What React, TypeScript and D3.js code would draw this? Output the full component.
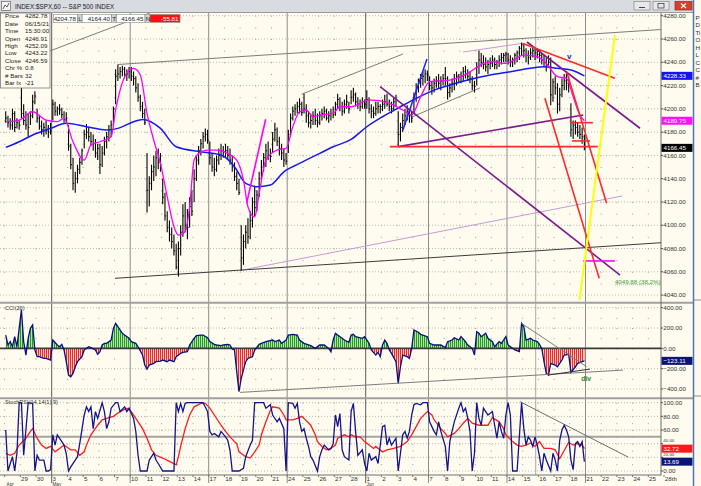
import React from "react";
import * as d3 from "d3";

const FONT = "Liberation Sans, Arial, Helvetica, sans-serif";

// ---------- DATA ----------
// 60-minute bars, 7 per trading day (Apr 28 .. Jun 18, 2021)
const barHigh: number[] = [
  4198,4194,4192,4200,4198,4192,4190,
  4218,4204,4198,4196,4198,4212,4215,
  4200,4194,4190,4188,4190,4186,4188,
  4208,4206,4202,4204,4201,4198,4197,
  4186,4170,4158,4146,4152,4158,4166,
  4182,4187,4184,4180,4178,4174,4170,
  4170,4168,4176,4180,4186,4190,4202,
  4234,4238,4236,4237,4236,4234,4236,
  4236,4232,4228,4222,4212,4206,4200,
  4162,4142,4152,4160,4164,4166,4162,
  4140,4128,4112,4104,4098,4092,4084,
  4086,4100,4118,4120,4114,4124,4130,
  4148,4160,4168,4174,4180,4183,4182,
  4172,4162,4158,4160,4166,4170,4168,
  4170,4168,4166,4160,4154,4146,4140,
  4100,4092,4100,4106,4112,4124,4134,
  4130,4146,4156,4162,4170,4172,4166,
  4180,4188,4184,4176,4170,4166,4162,
  4182,4196,4202,4204,4206,4209,4206,
  4213,4204,4198,4196,4198,4200,4196,
  4198,4200,4202,4200,4198,4200,4202,
  4206,4213,4210,4206,4208,4212,4206,
  4216,4218,4214,4210,4208,4210,4208,
  4216,4210,4204,4202,4206,4206,4204,
  4208,4212,4213,4208,4206,4210,4212,
  4198,4188,4196,4200,4203,4200,4198,
  4214,4222,4226,4230,4232,4234,4233,
  4228,4224,4226,4228,4230,4228,4230,
  4236,4228,4222,4226,4230,4232,4230,
  4232,4236,4237,4234,4232,4228,4224,
  4240,4250,4248,4246,4244,4242,4244,
  4246,4244,4242,4246,4248,4248,4249,
  4248,4246,4244,4248,4250,4254,4257,
  4256,4252,4250,4252,4254,4252,4252.09,
  4251,4248,4246,4244,4246,4244,4226,
  4228,4222,4218,4226,4230,4232,4228,
  4204.78,4190,4190,4188,4186,4184,4178,
];
const barLow: number[] = [
  4188,4184,4182,4182,4180,4183,4182,
  4192,4186,4182,4176,4186,4192,4204,
  4188,4182,4178,4176,4178,4175,4178,
  4190,4194,4194,4195,4192,4188,4188,
  4164,4148,4130,4128,4136,4144,4152,
  4166,4174,4172,4168,4164,4158,4156,
  4144,4150,4160,4166,4172,4176,4186,
  4204,4224,4226,4228,4226,4224,4226,
  4224,4220,4214,4206,4198,4192,4186,
  4111,4116,4130,4138,4142,4148,4146,
  4118,4104,4094,4086,4080,4074,4062,
  4056,4074,4090,4094,4088,4098,4108,
  4120,4138,4152,4160,4166,4172,4170,
  4152,4146,4142,4146,4152,4156,4158,
  4158,4156,4152,4146,4138,4130,4126,
  4061,4066,4080,4084,4088,4098,4108,
  4112,4124,4138,4146,4150,4156,4154,
  4162,4172,4168,4160,4156,4150,4152,
  4162,4176,4190,4194,4196,4196,4194,
  4196,4188,4184,4183,4186,4186,4184,
  4186,4190,4192,4190,4188,4190,4192,
  4194,4200,4198,4194,4196,4200,4196,
  4204,4206,4202,4200,4198,4200,4200,
  4200,4196,4192,4192,4194,4196,4196,
  4198,4200,4202,4198,4196,4198,4202,
  4168,4172,4180,4186,4190,4188,4188,
  4196,4206,4214,4218,4220,4222,4224,
  4216,4212,4214,4218,4218,4216,4220,
  4220,4208,4210,4214,4216,4220,4222,
  4222,4224,4226,4224,4222,4216,4214,
  4220,4230,4236,4234,4232,4230,4234,
  4236,4234,4234,4236,4238,4240,4240,
  4238,4236,4236,4238,4240,4242,4246,
  4244,4240,4238,4242,4244,4242,4243.22,
  4240,4238,4236,4232,4236,4203,4206,
  4212,4196,4198,4210,4216,4216,4214,
  4176,4174,4178,4176,4174,4170,4164.4,
];
const barClose: number[] = [
  4192,4188,4186,4196,4184,4188,4186,
  4196,4190,4186,4184,4194,4206,4211,
  4192,4185,4182,4184,4181,4180,4181,
  4204,4198,4200,4199,4195,4191,4192,
  4168,4152,4136,4140,4148,4154,4164,
  4178,4180,4176,4172,4170,4162,4166,
  4152,4162,4172,4176,4182,4186,4200,
  4228,4230,4232,4234,4229,4230,4232,
  4228,4226,4218,4210,4202,4196,4188,
  4130,4136,4146,4150,4158,4154,4152,
  4124,4108,4098,4092,4086,4078,4064,
  4080,4094,4108,4100,4098,4116,4112,
  4140,4156,4164,4170,4176,4178,4173,
  4158,4150,4148,4156,4160,4164,4163,
  4164,4160,4156,4150,4142,4136,4128,
  4072,4086,4094,4090,4104,4120,4115,
  4126,4140,4150,4158,4164,4160,4159,
  4174,4182,4172,4166,4162,4156,4155,
  4178,4192,4198,4200,4202,4204,4197,
  4200,4194,4188,4190,4194,4190,4188,
  4194,4196,4198,4192,4194,4196,4195,
  4204,4208,4202,4198,4204,4206,4200,
  4210,4212,4206,4204,4202,4206,4204,
  4208,4200,4198,4196,4200,4202,4202,
  4204,4206,4204,4202,4200,4206,4208,
  4178,4184,4190,4194,4198,4194,4192,
  4210,4218,4222,4226,4228,4230,4229,
  4220,4218,4222,4224,4222,4224,4226,
  4226,4214,4218,4222,4226,4228,4227,
  4228,4232,4230,4228,4226,4220,4219,
  4236,4242,4240,4238,4236,4238,4239,
  4242,4238,4240,4242,4244,4246,4247,
  4242,4240,4242,4246,4248,4252,4255,
  4250,4246,4244,4248,4250,4248,4246.59,
  4246,4242,4240,4238,4240,4212,4223,
  4218,4204,4212,4220,4224,4222,4221.86,
  4182,4186,4184,4180,4178,4176,4166.45,
];

// moving averages: [bar index, value]
const maFast: [number, number][] = [
  [0,4188.9],[6,4190.3],[12,4197.5],[18,4190.3],[23,4189],[26,4191.8],[30,4171.7],[35,4156],[38,4168.9],
  [42,4171.7],[47,4176],[49,4199],[51,4216],[55,4233.3],[57,4234.7],[60,4229],[63,4196],[66,4173],[69,4153],
  [72,4124.5],[75,4098.7],[77,4091.5],[80,4094.4],[82,4115.9],[84,4156],[87,4163],[90,4164.6],[94,4164.6],
  [99,4161.7],[103,4156],[106,4138.8],[108,4115.9],[111,4107],[113,4127.3],[116,4156],[121,4164.6],[125,4166],
  [128,4184.6],[131,4197.5],[134,4199],[137,4193],[140,4194.6],[146,4196],[149,4201.8],[154,4201.8],[162,4207.6],
  [171,4204.7],[177,4199],[181,4194.7],[185,4210.4],[189,4223.3],[198,4224.7],[206,4230.5],[213,4239],[217,4240.5],
  [223,4239],[231,4246.2],[237,4244.8],[241,4239],[246,4227.6],[250,4226.2],[253,4210.4],[256,4194.7],[258,4189.75],
];
const maSlow: [number, number][] = [
  [0,4166.9],[6,4171.7],[12,4177.5],[20,4183.2],[27,4187.5],[36,4184.6],[45,4181.8],[50,4183.2],[57,4188.9],
  [61,4190.9],[69,4183.2],[76,4167.4],[87,4163.1],[96,4160.3],[102,4150.3],[107,4135.9],[112,4133.1],[118,4134.5],
  [124,4145.9],[131,4153.1],[140,4161.7],[146,4167.4],[154,4173.7],[161,4184.6],[168,4193.2],[176,4201.8],
  [183,4209],[191,4216.1],[198,4220.4],[206,4224.7],[216,4229],[225,4231.9],[234,4234.8],[240,4236.2],
  [246,4234.8],[252,4233.3],[258,4228.33],
];

// CCI(20): [bar index, value]
const cciPts: [number, number][] = [
  [0,131],[1,33],[2,66],[3,16],[4,115],[5,16],[6,197],[7,378],[8,66],[9,-66],[10,99],[11,197],[12,230],[13,-16],
  [14,-82],[15,-82],[17,-99],[18,-99],[20,-115],[21,82],[23,33],[24,16],[25,39],[26,-16],[27,-131],[28,-263],
  [29,-279],[30,-246],[31,-181],[32,-131],[34,-82],[35,-16],[37,16],[38,7],[40,-16],[41,-59],[42,-33],[43,33],
  [44,49],[45,49],[47,82],[48,197],[49,246],[50,213],[52,148],[53,131],[55,99],[56,66],[58,49],[59,16],[61,-66],
  [62,-164],[63,-204],[64,-164],[66,-148],[67,-131],[69,-125],[70,-115],[72,-131],[73,-115],[75,-131],[76,-82],
  [78,-49],[79,-39],[81,-33],[82,33],[84,99],[85,125],[87,131],[88,131],[90,105],[91,66],[93,39],[94,33],[96,26],
  [97,33],[99,39],[100,33],[101,-7],[102,-16],[103,-230],[104,-427],[105,-296],[107,-131],[108,-99],[110,-82],
  [111,-16],[113,39],[114,49],[116,66],[119,82],[120,66],[122,82],[123,49],[125,82],[126,131],[128,138],[130,131],
  [131,82],[133,49],[136,26],[138,0],[140,33],[142,33],[144,0],[145,-33],[146,82],[147,148],[148,131],[150,99],
  [151,82],[153,60],[154,131],[155,138],[156,115],[159,99],[160,115],[162,49],[163,-16],[165,-66],[166,-39],
  [167,-82],[168,33],[169,82],[170,49],[171,-16],[172,-49],[174,-131],[175,-345],[176,-181],[177,-66],[179,-82],
  [180,-99],[181,0],[182,181],[184,158],[185,138],[188,115],[189,49],[191,33],[194,33],[196,7],[197,66],[199,82],
  [200,105],[202,82],[203,115],[205,66],[206,33],[208,0],[209,-66],[210,164],[211,148],[212,115],[214,148],
  [215,99],[217,66],[218,16],[220,66],[221,49],[223,115],[224,33],[226,0],[227,-16],[229,-33],[230,246],[231,213],
  [232,82],[234,99],[235,82],[237,66],[238,39],[239,0],[240,-131],[241,-246],[242,-263],[243,-148],[245,-164],
  [246,-181],[248,-115],[249,-66],[251,-59],[252,-236],[254,-181],[255,-148],[257,-131],[258,-123.11],
];

// StochRSI(14,14(1),9): fast (blue) and signal (red), [bar index, value]
const stochK: [number, number][] = [
  [0,60],[1,0],[3,21],[4,0],[5,26],[6,100],[7,100],[8,23],[9,60],[10,100],[12,99],[13,0],[14,23],[15,16],[17,16],
  [18,0],[19,0],[20,2],[21,53],[22,38],[23,53],[25,43],[26,38],[27,25],[28,0],[29,6],[31,16],[32,21],[33,40],
  [35,82],[36,94],[37,87],[38,94],[39,62],[40,87],[41,77],[43,100],[44,87],[45,62],[46,72],[47,92],[49,100],
  [50,100],[51,87],[53,94],[54,87],[55,92],[57,77],[58,58],[59,23],[60,0],[63,0],[64,16],[66,26],[67,16],[68,11],
  [70,0],[75,0],[76,100],[77,87],[78,99],[79,87],[80,99],[81,100],[88,100],[90,87],[91,58],[92,53],[93,55],
  [95,50],[96,58],[98,50],[99,45],[100,30],[101,0],[104,0],[106,4],[107,21],[109,38],[110,45],[111,100],[115,100],
  [116,92],[118,97],[119,82],[121,72],[122,77],[124,62],[125,0],[126,100],[128,99],[129,92],[130,99],[131,72],
  [132,58],[133,62],[134,48],[135,36],[136,21],[137,16],[139,0],[140,21],[141,31],[142,38],[144,31],[145,33],
  [146,40],[147,82],[148,65],[149,84],[150,31],[151,21],[153,16],[154,87],[155,99],[156,58],[157,23],[159,31],
  [160,11],[161,0],[162,26],[163,16],[165,21],[166,11],[168,65],[169,67],[170,38],[171,48],[172,38],[174,48],
  [175,0],[176,26],[177,53],[178,58],[179,48],[180,58],[181,82],[182,97],[183,99],[185,97],[186,100],[188,100],
  [189,72],[191,58],[192,53],[193,72],[194,58],[196,36],[197,0],[198,43],[199,58],[200,72],[202,92],[203,100],
  [204,87],[205,92],[206,77],[207,58],[208,0],[209,26],[210,100],[211,77],[212,67],[213,92],[214,87],[215,82],
  [217,87],[218,67],[219,48],[220,72],[221,58],[222,48],[223,82],[224,100],[225,82],[226,0],[228,0],[230,100],
  [231,62],[232,38],[233,50],[234,45],[235,36],[236,50],[237,38],[238,21],[239,0],[240,26],[241,16],[243,0],
  [244,26],[245,16],[246,0],[247,45],[248,60],[249,67],[250,60],[251,50],[252,16],[253,2],[254,40],[255,43],
  [256,36],[257,43],[258,13.69],
];
const stochD: [number, number][] = [
  [0,26],[2,23],[4,26],[6,38],[9,48],[11,58],[12,62],[14,48],[16,38],[18,33],[20,36],[22,28],[24,33],[26,38],
  [29,31],[31,31],[33,23],[35,28],[36,38],[38,53],[41,67],[43,75],[45,77],[48,80],[51,87],[54,92],[56,87],[58,77],
  [61,62],[63,48],[65,31],[67,23],[70,19],[73,14],[76,9],[77,21],[78,36],[80,62],[82,82],[84,94],[87,99],[89,99],
  [91,92],[93,82],[96,67],[98,58],[100,50],[102,43],[103,40],[104,28],[107,21],[109,19],[111,28],[113,38],[114,53],
  [116,72],[118,89],[119,94],[122,92],[124,82],[125,75],[128,75],[130,77],[132,80],[133,77],[136,67],[138,53],
  [139,43],[141,36],[143,31],[145,33],[147,38],[148,48],[151,53],[153,50],[154,53],[156,50],[158,50],[160,43],
  [162,38],[164,33],[165,36],[168,28],[170,31],[173,33],[176,36],[179,43],[181,53],[183,65],[185,77],[188,87],
  [190,82],[191,75],[194,62],[196,55],[197,50],[200,55],[202,62],[204,70],[206,77],[208,70],[211,67],[213,67],
  [215,67],[217,78],[220,72],[222,62],[223,53],[226,43],[228,38],[230,36],[232,38],[234,41],[236,36],[238,43],
  [240,33],[243,33],[245,31],[247,18],[249,30],[251,42],[253,38],[255,40],[257,38],[258,32.72],
];

// drawn trendlines [bar1, value1, bar2, value2]
const grayLines = [[19.7,4249.7,64.3,4282.3],[50.1,4238.1,292.1,4268.1],[131.9,4212.5,177.1,4247.1],[181.1,4193,211.4,4217.9]];
const blackLines = [[48.7,4054.4,292.5,4085]];
const lavenderLines = [[203.9,4248.8,230.6,4256.3],[104.5,4061.1,274.8,4125.1]];
const purpleLines = [[232.4,4257.4,282.8,4183.3],[166.9,4219,273.9,4057.2],[175,4167.5,257.5,4194.7]];
const redLines = [[230.6,4256.1,271.6,4226.2],[171.3,4167.5,264,4167.5],[251.6,4188.1,261.8,4188.1],[252.5,4172.4,260.5,4172.4],[240.4,4209,264.6,4054.4],[250.1,4231.9,267.9,4118.8]];
const yellowLines = [[255.8,4035.8,271.6,4263.4]];
const magentaLines = [[257.4,4069.3,271.6,4069.3],[107.4,4118.8,115.9,4191]];
const blueLines = [[177.1,4181.8,187.8,4242.8]];
const cciGrayLines = [[104.5,-433.5,275.2,-213.8],[230,246,259,-181]];
const cciBlackLines = [[241.8,-263,260.5,-204]];
const stochGrayLines = [[229.3,101.5,277.6,20.2]];

// axes
const priceTicks = [4280,4260,4240,4220,4200,4180,4160,4140,4120,4100,4080,4060,4040];
const cciTicks = [400,200,0,-200,-400];
const stochTicks = [100,80,60,40,20,0];
const dayLabels = ["","29","30","3","4","5","6","7","10","11","12","13","14","17","18","19","20","21","24","25","26","27","28","1","2","3","4","7","8","9","10","11","14","15","16","17","18","21","22","23","24","25","28th"];
const weekStartDays = [3,8,13,18,23,27,32,37];
const monthStartDays = [0,3,23];
const monthNames = ["Apr","May","Jun"];

const infoLabels = ["Price","Date","Time","Open","High","Low","Close","Chr %","# Bars","Bar Ix"];
const infoValues = ["4282.78","06/15/21","15:30:00","4246.91","4252.09","4243.22","4246.59","0.8","32","-21"];
const headerValues = ["4204.78","4164.40","4166.45","-55.81"];
const headerKeys = ["L","T","N"];
const lastValues = { slow: 4228.33, fast: 4189.75, close: 4166.45, cci: -123.11, stochD: 32.72, stochK: 13.69 };
const fibLevel = 4049.88;
const fibText = "4049.88 (38.2%)";
const cursorBar = 236.3;

export default function App() {
  const PR = 661;
  const mainTop = 13, mainBot = 302;
  const cciTop = 303.5, cciBot = 397.5;
  const stTop = 399, stBot = 474.5;
  const nBars = barHigh.length;
  const bpd = 7;

  const x = d3.scaleLinear().domain([-0.5, nBars - 0.5]).range([4.6, 585.5]);
  const dayX = (d: number) => x(d * bpd - 0.5);
  const yP = d3.scaleLinear().domain([4040, 4280]).range([295.06, 15.7]);
  const yC = d3.scaleLinear().domain([-400, 400]).range([389, 307.7]);
  const yS = d3.scaleLinear().domain([0, 100]).range([471, 402.7]);

  const lineP = d3.line<[number, number]>().x(d => x(d[0])).y(d => yP(d[1])).curve(d3.curveMonotoneX);
  const lineC = d3.line<[number, number]>().x(d => x(d[0])).y(d => yC(d[1]));
  const areaC = d3.area<[number, number]>().x(d => x(d[0])).y0(yC(0)).y1(d => yC(d[1]));
  const lineS = d3.line<[number, number]>().x(d => x(d[0])).y(d => yS(d[1]));

  const days = d3.range(0, dayLabels.length);
  const dotDays = days.filter(d => !weekStartDays.includes(d) && dayX(d) < PR - 1);

  const seg = (arr: number[][], ys: (v: number) => number, stroke: string, w: number, key: string) =>
    arr.map((l, i) => (
      <line key={key + i} x1={x(l[0])} y1={ys(l[1])} x2={x(l[2])} y2={ys(l[3])} stroke={stroke} strokeWidth={w} />
    ));

  const fmt = d3.format(".2f");
  const txt = { fontFamily: FONT, fontSize: 6.2 } as const;

  const valueBox = (v: number, ys: (v: number) => number, fill: string, key: string) => (
    <g key={key}>
      <rect x={661.5} y={ys(v) - 4} width={31} height={8} fill={fill} />
      <text x={663.5} y={ys(v) + 2.2} fill="#ffffff" {...txt}>{fmt(v)}</text>
    </g>
  );

  const hGrid = (ticks: number[], ys: (v: number) => number, key: string) =>
    ticks.map(t => (
      <line key={key + t} x1={0} x2={PR} y1={ys(t)} y2={ys(t)} stroke="#a8a8a8" strokeWidth={0.8} strokeDasharray="1 2" />
    ));
  const vDots = (ys: (v: number) => number, top: number, bot: number, step: number, key: string) =>
    dotDays.map(d => {
      const s = Math.abs(ys(step) - ys(0));
      return (
        <line key={key + d} x1={dayX(d)} x2={dayX(d)} y1={ys(top)} y2={ys(bot)} stroke="#9a9a9a" strokeWidth={1}
          strokeDasharray={`1 ${s - 1}`} />
      );
    });

  const headerBoxes = [
    { x: 53.5, w: 24 }, { x: 82, w: 29.5 }, { x: 116.5, w: 28.5 }, { x: 150, w: 30 },
  ];
  const headerKeyX = [77.5, 111.5, 145];

  const stochLabelTicks = stochTicks.filter(t => Math.abs(yS(t) - yS(lastValues.stochD)) > 6 && Math.abs(yS(t) - yS(lastValues.stochK)) > 6);

  return (
    <div style={{ position: "absolute", left: 0, top: 0, width: 701, height: 486 }}>
      <svg width={701} height={486} viewBox="0 0 701 486" style={{ display: "block" }}>
        <defs>
          <clipPath id="clipMain"><rect x={0} y={mainTop} width={PR} height={mainBot - mainTop} /></clipPath>
          <clipPath id="clipCci"><rect x={0} y={cciTop} width={PR} height={cciBot - cciTop} /></clipPath>
          <clipPath id="clipSt"><rect x={0} y={stTop} width={PR} height={stBot - stTop} /></clipPath>
          <clipPath id="cciPos"><rect x={0} y={cciTop} width={PR} height={yC(0) - cciTop} /></clipPath>
          <clipPath id="cciNeg"><rect x={0} y={yC(0)} width={PR} height={cciBot - yC(0)} /></clipPath>
          <pattern id="gStripe" width={2} height={4} patternUnits="userSpaceOnUse">
            <rect width={2} height={4} fill="#b4e2aa" />
            <rect width={1} height={4} fill="#1f9a22" />
          </pattern>
          <pattern id="rStripe" width={2} height={4} patternUnits="userSpaceOnUse">
            <rect width={2} height={4} fill="#ffd0cc" />
            <rect width={1} height={4} fill="#ee2a2a" />
          </pattern>
        </defs>

        {/* background */}
        <rect x={0} y={0} width={701} height={486} fill="#fffcef" />

        {/* grids */}
        {hGrid(priceTicks, yP, "hp")}
        {vDots(yP, 4280, 4040, 10, "vp")}
        {hGrid(cciTicks.filter(t => t !== 0), yC, "hc")}
        {vDots(yC, 400, -400, 100, "vc")}
        {hGrid(stochTicks, yS, "hs")}
        {vDots(yS, 100, 0, 10, "vs")}
        <line x1={0} x2={PR} y1={yS(50)} y2={yS(50)} stroke="#a4a4a4" strokeWidth={2} />

        {/* week / month lines */}
        {weekStartDays.map(d => (
          <line key={"w" + d} x1={dayX(d)} x2={dayX(d)} y1={mainTop} y2={483}
            stroke={monthStartDays.includes(d) ? "#5c5c5c" : "#8c8c8c"} strokeWidth={1} />
        ))}
        <line x1={x(cursorBar)} x2={x(cursorBar)} y1={mainTop} y2={stBot} stroke="#a8a8a8" strokeWidth={1} />

        {/* panel separators */}
        <line x1={0} x2={701} y1={mainBot + 0.8} y2={mainBot + 0.8} stroke="#a0a0a0" strokeWidth={2} />
        <line x1={0} x2={701} y1={398.2} y2={398.2} stroke="#a0a0a0" strokeWidth={2} />
        <line x1={0} x2={PR} y1={stBot + 0.5} y2={stBot + 0.5} stroke="#707070" strokeWidth={1} />
        <line x1={PR} x2={PR} y1={mainTop} y2={stBot + 1} stroke="#6a6a6a" strokeWidth={1} />

        {/* ---------- main panel ---------- */}
        <g clipPath="url(#clipMain)">
          {seg(lavenderLines, yP, "#c79ad6", 1, "lav")}
          {seg(grayLines, yP, "#7c7c7c", 1, "gr")}
          {seg(blackLines, yP, "#3c3c3c", 1, "bk")}
          {barHigh.map((h, i) => (
            <g key={"b" + i}>
              <line x1={x(i)} x2={x(i)} y1={yP(h)} y2={yP(barLow[i])} stroke="#000" strokeWidth={1.1} />
              <line x1={x(i)} x2={x(i) + 1.2} y1={yP(barClose[i])} y2={yP(barClose[i])} stroke="#000" strokeWidth={1} />
            </g>
          ))}
          <path d={lineP(maSlow) || ""} fill="none" stroke="#1818f0" strokeWidth={1.5} />
          <path d={lineP(maFast) || ""} fill="none" stroke="#ff00ff" strokeWidth={1.3} />
          {seg(purpleLines, yP, "#7c1c8c", 1.6, "pu")}
          {seg(redLines, yP, "#ff2a2a", 1.6, "rd")}
          {seg(magentaLines, yP, "#ff00ff", 1.6, "mg")}
          {seg(blueLines, yP, "#2020ff", 1.5, "bl")}
          {seg(yellowLines, yP, "#ffff00", 2, "ye")}
          <text x={x(250.2)} y={yP(4242.8)} fill="#2020d0" fontFamily={FONT} fontSize={8} fontWeight="bold">v</text>
          <text x={x(271.6)} y={yP(fibLevel)} fill="#3a9a3a" {...txt}>{fibText}</text>
          <line x1={x(271.6)} x2={PR} y1={yP(fibLevel) + 1.2} y2={yP(fibLevel) + 1.2} stroke="#6ab06a" strokeWidth={0.7} strokeDasharray="1 1" />
        </g>

        {/* ---------- CCI panel ---------- */}
        <g clipPath="url(#clipCci)">
          <path d={areaC(cciPts) || ""} fill="url(#gStripe)" clipPath="url(#cciPos)" />
          <path d={areaC(cciPts) || ""} fill="url(#rStripe)" clipPath="url(#cciNeg)" />
          <line x1={0} x2={PR} y1={yC(0)} y2={yC(0)} stroke="#3a3a3a" strokeWidth={1.6} />
          <path d={lineC(cciPts) || ""} fill="none" stroke="#0a1080" strokeWidth={1.3} />
          {seg(cciGrayLines, yC, "#7c7c7c", 1, "cg")}
          {seg(cciBlackLines, yC, "#303030", 1, "cb")}
          <text x={x(256.6)} y={yC(-318)} fill="#2a8a2a" fontFamily={FONT} fontSize={6.8} fontWeight="bold">div</text>
        </g>
        <text x={5} y={310} fill="#333" fontFamily={FONT} fontSize={5.6}>CCI(20)</text>

        {/* ---------- Stoch RSI panel ---------- */}
        <g clipPath="url(#clipSt)">
          {seg(stochGrayLines, yS, "#6c6c6c", 1, "sg")}
          <path d={lineS(stochD) || ""} fill="none" stroke="#ff1c1c" strokeWidth={1.3} />
          <path d={lineS(stochK) || ""} fill="none" stroke="#14148c" strokeWidth={1.3} />
        </g>
        <text x={5} y={403.5} fill="#333" fontFamily={FONT} fontSize={5.6}>StochRSI(14,14(1),9)</text>

        {/* ---------- right axis ---------- */}
        {priceTicks.map(t => (
          <g key={"pt" + t}>
            <line x1={PR} x2={PR + 2} y1={yP(t)} y2={yP(t)} stroke="#555" />
            <text x={663.3} y={yP(t) + 2.2} fill="#333" {...txt}>{fmt(t)}</text>
          </g>
        ))}
        {cciTicks.map(t => (
          <g key={"ct" + t}>
            <line x1={PR} x2={PR + 2} y1={yC(t)} y2={yC(t)} stroke="#555" />
            <text x={663.3} y={yC(t) + 2.2} fill="#333" {...txt}>{fmt(t)}</text>
          </g>
        ))}
        {stochTicks.map(t => (
          <line key={"stl" + t} x1={PR} x2={PR + 2} y1={yS(t)} y2={yS(t)} stroke="#555" />
        ))}
        {stochLabelTicks.map(t => (
          <text key={"st" + t} x={663.3} y={yS(t) + 2.2} fill="#333" {...txt}>{fmt(t)}</text>
        ))}
        {stochTicks.filter(t => !stochLabelTicks.includes(t)).map(t => (
          <text key={"sth" + t} x={663.3} y={yS(t) - 1.2} fill="#333" fontFamily={FONT} fontSize={4.4}>{fmt(t)}</text>
        ))}
        {valueBox(lastValues.slow, yP, "#1414ee", "vb1")}
        {valueBox(lastValues.fast, yP, "#ff10ff", "vb2")}
        {valueBox(lastValues.close, yP, "#000000", "vb3")}
        {valueBox(lastValues.cci, yC, "#0c1478", "vb4")}
        {valueBox(lastValues.stochD, yS, "#ff1a1a", "vb5")}
        {valueBox(lastValues.stochK, yS, "#0c1478", "vb6")}

        {/* ---------- date axis ---------- */}
        {days.map(d => (
          <g key={"d" + d}>
            <line x1={dayX(d)} x2={dayX(d)} y1={stBot + 0.5} y2={stBot + 2.5} stroke="#777" />
            {dayLabels[d] && (
              <text x={dayX(d) + 0.8} y={480.8} fill="#333" {...txt}>{dayLabels[d]}</text>
            )}
          </g>
        ))}
        {monthStartDays.map((d, i) => (
          <text key={"m" + d} x={dayX(d) + (i === 0 ? 2 : 0.8)} y={486.4} fill="#333" fontFamily={FONT} fontSize={4.6}>{monthNames[i]}</text>
        ))}

        {/* ---------- title bar ---------- */}
        <rect x={0} y={0} width={701} height={12.5} fill="#d8dbe0" />
        <line x1={0} x2={701} y1={12.5} y2={12.5} stroke="#9a9a9a" strokeWidth={1} />
        <rect x={1.5} y={1.5} width={9} height={9} fill="#f4f4f4" stroke="#666" strokeWidth={0.7} />
        <path d="M3,9 L5,5 L7,7 L9,3" fill="none" stroke="#333" strokeWidth={0.8} />
        <text x={15} y={8.8} fill="#1a1a1a" fontFamily={FONT} fontSize={6.3}>INDEX:$SPX,60 -- S&amp;P 500 INDEX</text>
        <rect x={634} y={1.5} width={16} height={8.5} fill="#e8e8e8" stroke="#8a8a8a" strokeWidth={0.7} />
        <line x1={639} x2={645} y1={7.5} y2={7.5} stroke="#444" strokeWidth={1} />
        <rect x={653} y={1.5} width={16} height={8.5} fill="#e8e8e8" stroke="#8a8a8a" strokeWidth={0.7} />
        <rect x={658} y={3.5} width={6} height={4.5} fill="none" stroke="#444" strokeWidth={0.8} />
        <rect x={675} y={1.5} width={17} height={8.5} fill="#d8402c" stroke="#8a3020" strokeWidth={0.7} />
        <path d="M681,3.5 L686,8 M686,3.5 L681,8" stroke="#fff" strokeWidth={1.1} />

        {/* header value boxes */}
        {headerBoxes.map((b, i) => (
          <g key={"hb" + i}>
            <rect x={b.x} y={14.5} width={b.w} height={7.8} fill={i === 3 ? "#ff1010" : "#ffffff"} stroke="#8a8a8a" strokeWidth={0.6} />
            <text x={b.x + b.w - 1.5} y={20.6} textAnchor="end" fill={i === 3 ? "#ffffff" : "#222"} {...txt}>{headerValues[i]}</text>
          </g>
        ))}
        {headerKeys.map((k, i) => (
          <g key={"hk" + k}>
            <rect x={headerKeyX[i]} y={14.5} width={4.5} height={7.8} fill="#d4d4d4" stroke="#8a8a8a" strokeWidth={0.6} />
            <text x={headerKeyX[i] + 0.8} y={20.6} fill="#222" {...txt}>{k}</text>
          </g>
        ))}

        {/* info box */}
        <rect x={0.5} y={13} width={49.5} height={75} fill="#fffcef" stroke="#7a7a7a" strokeWidth={0.8} />
        {infoLabels.map((l, i) => (
          <g key={"il" + i}>
            <text x={5} y={18.2 + i * 7.45} fill="#222" {...txt}>{l}</text>
            <text x={25} y={18.2 + i * 7.45} fill="#222" {...txt}>{infoValues[i]}</text>
          </g>
        ))}

        {/* neighbouring window edge */}
        <rect x={693} y={0} width={8} height={486} fill="#fbf9ee" />
        <line x1={693.5} x2={693.5} y1={0} y2={486} stroke="#4c78b0" strokeWidth={1.5} />
        {["P","D","Ti","O","H","L","C","C","#","B"].map((l, i) => (
          <text key={"rw" + i} x={695.5} y={20 + i * 7.45} fill="#333" {...txt}>{l}</text>
        ))}
        <line x1={694} x2={701} y1={300} y2={300} stroke="#8a8a8a" />
        <line x1={694} x2={701} y1={396} y2={396} stroke="#8a8a8a" />
      </svg>
    </div>
  );
}
